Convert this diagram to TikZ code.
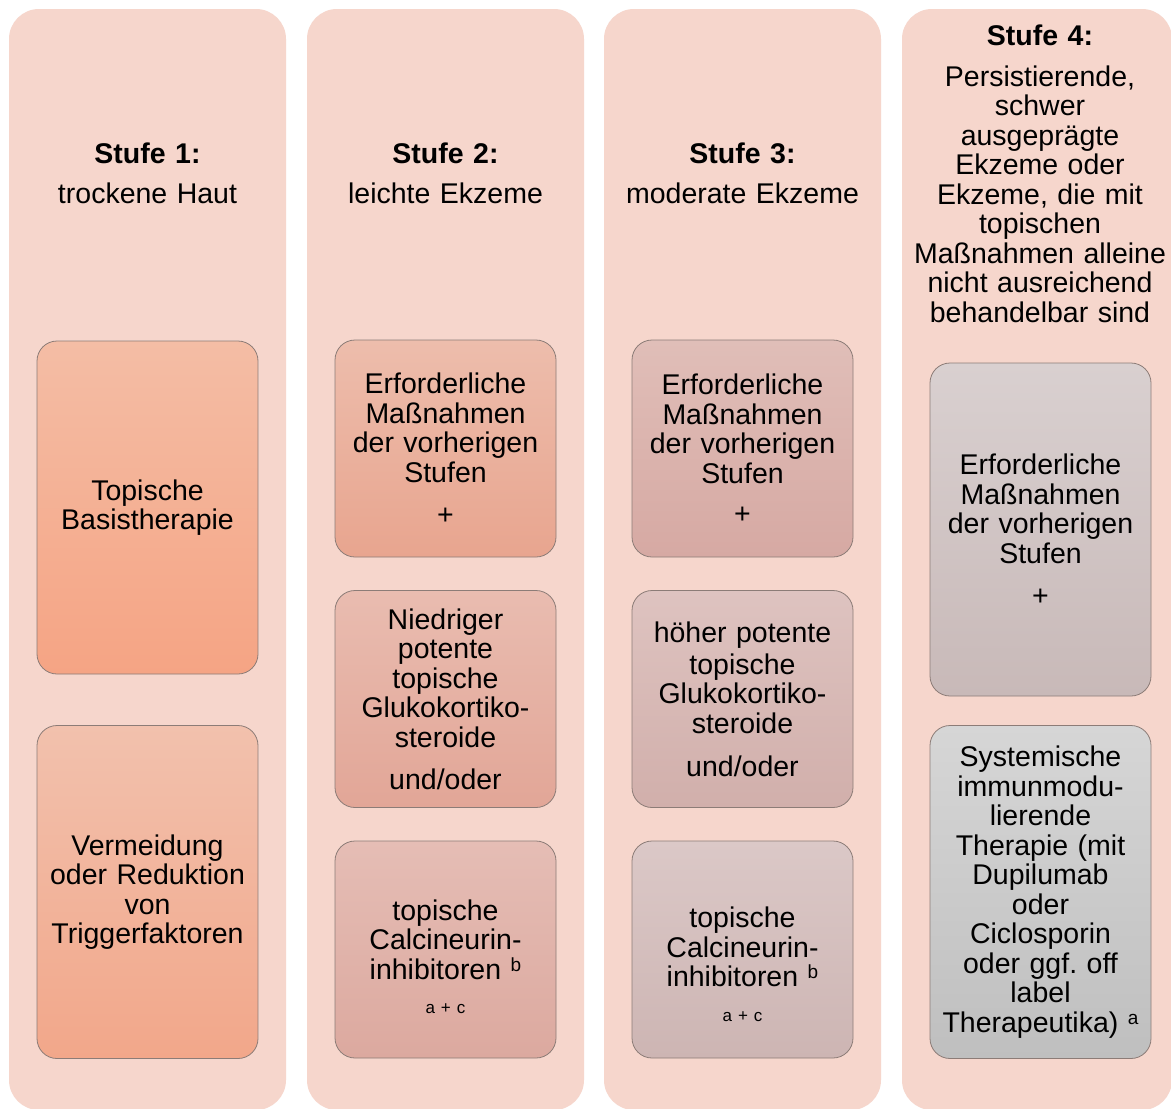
\documentclass[tikz,border=0pt]{standalone}
\usepackage{fontspec}
\setmainfont{Liberation Sans}
\newcommand\mainsz{\fontsize{28.5}{29.5}\selectfont}
\newcommand\smallsz{\fontsize{17}{17}\selectfont}
\newcommand\supx[1]{\raisebox{8pt}{\fontsize{19}{19}\selectfont #1}}
\newcommand\apc{{\smallsz a\hspace{6pt}+\hspace{6pt}c}}
\definecolor{colbg}{HTML}{F6D6CC}
\definecolor{boxline}{HTML}{8C7C77}
\definecolor{cAt}{HTML}{F4BDA5}\definecolor{cAb}{HTML}{F5A484}
\definecolor{cBt}{HTML}{F2C1AD}\definecolor{cBb}{HTML}{F2A78A}
\definecolor{cCt}{HTML}{EDBDAC}\definecolor{cCb}{HTML}{E8A58F}
\definecolor{cDt}{HTML}{E9BCB0}\definecolor{cDb}{HTML}{E2A697}
\definecolor{cEt}{HTML}{E5BDB5}\definecolor{cEb}{HTML}{DCA99F}
\definecolor{cFt}{HTML}{E0BEB8}\definecolor{cFb}{HTML}{D6A9A3}
\definecolor{cGt}{HTML}{DEC3C0}\definecolor{cGb}{HTML}{D1AFAB}
\definecolor{cHt}{HTML}{DBC8C7}\definecolor{cHb}{HTML}{CDB5B3}
\definecolor{cIt}{HTML}{D9D0D0}\definecolor{cIb}{HTML}{C8B9B8}
\definecolor{cJt}{HTML}{D6D6D6}\definecolor{cJb}{HTML}{BFBFBF}
\begin{document}
\frenchspacing
\begin{tikzpicture}[x=1pt,y=-1pt,
  colbox/.style={fill=colbg, draw=none, rounded corners=30pt},
  head/.style={align=center, font=\mainsz, text width=265pt, inner sep=0pt},
  ibox/.style={rounded corners=20pt, draw=boxline, line width=0.8pt,
    align=center, text width=215pt, inner sep=0pt, minimum width=221pt,
    font=\mainsz},
  itext/.style={align=center, text width=215pt, inner sep=0pt, font=\mainsz},
  tall/.style={minimum height=333pt},
  short/.style={minimum height=217pt}]
\clip (0,0) rectangle (1171,1109);
\fill[white] (0,0) rectangle (1171,1109);
% columns
\path[colbox] (9,9) rectangle (286,1110);
\path[colbox] (307,9) rectangle (584,1110);
\path[colbox] (604,9) rectangle (881,1110);
\path[colbox] (902,9) rectangle (1172,1110);
% headers
\node[head] (h1) at (147.5,173) {\textbf{Stufe 1:}\\[10.5pt]trockene Haut};
\node[head] (h2) at (445.5,173) {\textbf{Stufe 2:}\\[10.5pt]leichte Ekzeme};
\node[head] (h3) at (742.5,173) {\textbf{Stufe 3:}\\[10.5pt]moderate Ekzeme};
\node[head] (h4) at (1040,174) {\textbf{Stufe 4:}\\[11pt]Persistierende,\\schwer\\ausgeprägte\\Ekzeme oder\\Ekzeme, die mit\\topischen\\Maßnahmen alleine\\nicht ausreichend\\behandelbar sind};
% column 1
\node[ibox, tall, top color=cAt, bottom color=cAb] (b11) at (147.5,507.5) {Topische\\Basistherapie};
\node[ibox, tall, top color=cBt, bottom color=cBb] (b12) at (147.5,892) {Vermeidung\\oder Reduktion\\von\\Triggerfaktoren};
% column 2
\node[ibox, short, top color=cCt, bottom color=cCb] (b21) at (445.5,448.5) {Erforderliche\\Maßnahmen\\der vorherigen\\Stufen\\[12.5pt]+};
\node[ibox, short, top color=cDt, bottom color=cDb] (b22) at (445.5,699) {Niedriger\\potente\\topische\\Glukokortiko-\\steroide\\[12.5pt]und/oder};
\node[ibox, short, top color=cEt, bottom color=cEb] (b23) at (445.5,949.5) {};
\node[itext, yshift=-7pt] (t23) at (b23.center) {topische\\Calcineurin-\\inhibitoren \supx{b}\\[4.5pt]\apc};
% column 3
\node[ibox, short, top color=cFt, bottom color=cFb] (b31) at (742.5,448.5) {Erforderliche\\Maßnahmen\\der vorherigen\\Stufen\\[10.5pt]+};
\node[ibox, short, top color=cGt, bottom color=cGb] (b32) at (742.5,699) {höher potente\\[2.5pt]topische\\Glukokortiko-\\steroide\\[13.5pt]und/oder};
\node[ibox, short, top color=cHt, bottom color=cHb] (b33) at (742.5,949.5) {};
\node[itext, yshift=-15pt] (t33) at (b33.center) {topische\\Calcineurin-\\inhibitoren \supx{b}\\[5.5pt]\apc};
% column 4
\node[ibox, tall, top color=cIt, bottom color=cIb] (b41) at (1040.5,529.5) {Erforderliche\\Maßnahmen\\der vorherigen\\Stufen\\[12.5pt]+};
\node[ibox, tall, top color=cJt, bottom color=cJb] (b42) at (1040.5,892) {Systemische\\immunmodu-\\lierende\\Therapie (mit\\Dupilumab\\oder\\Ciclosporin\\oder ggf. off\\label\\Therapeutika) \supx{a}};
\end{tikzpicture}
\end{document}
